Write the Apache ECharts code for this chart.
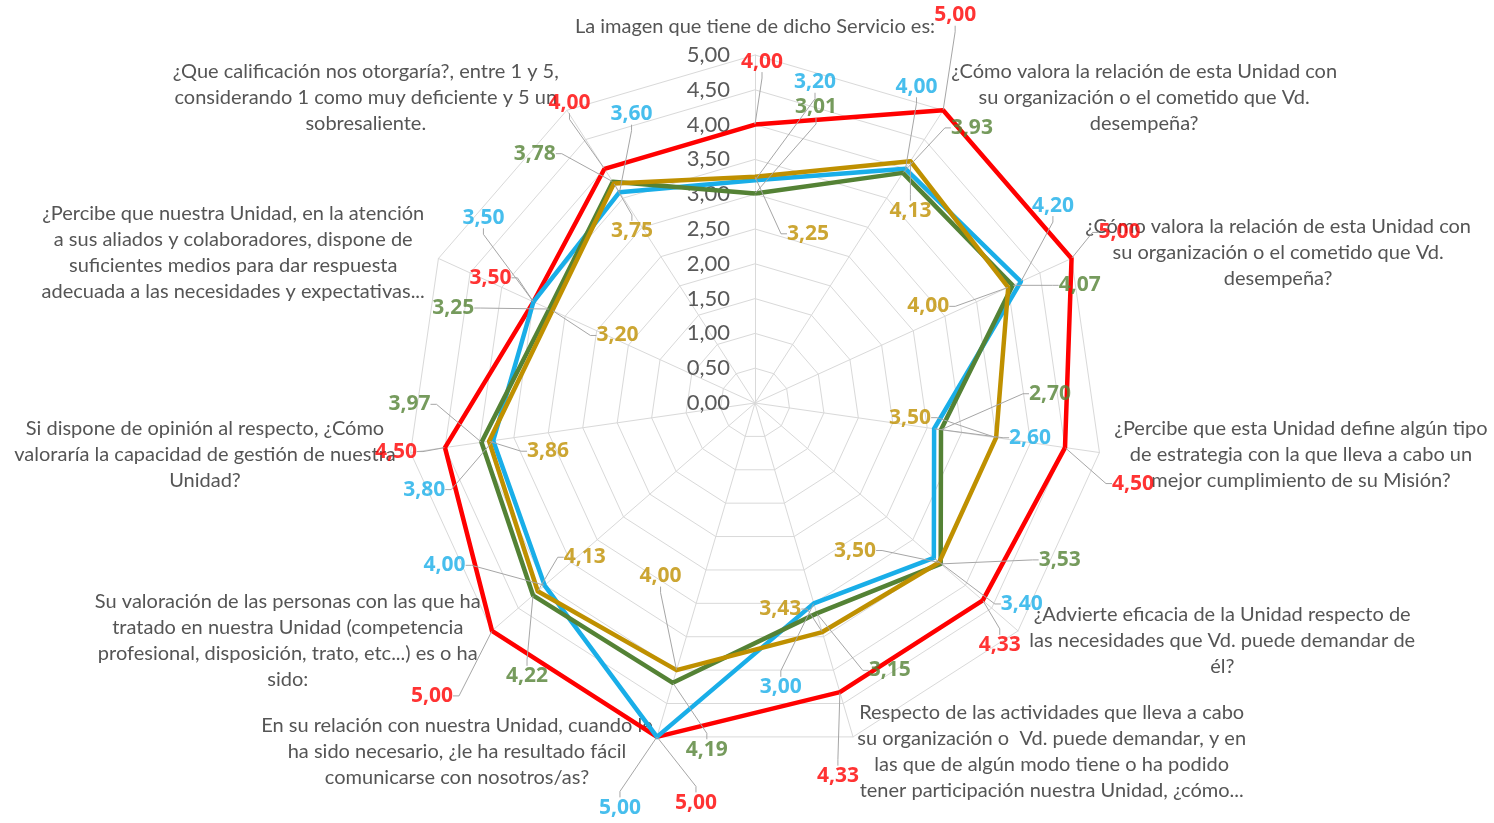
<!DOCTYPE html>
<html>
<head>
<meta charset="utf-8">
<title>Valoración del Servicio</title>
<script src="https://cdn.jsdelivr.net/npm/echarts@6/dist/echarts.min.js"></script>
<style>
  html, body { margin: 0; padding: 0; background: #ffffff; }
  #chart { width: 1494px; height: 823px; }
</style>
</head>
<body>
<div id="chart"></div>
<script>
// Questions, clockwise from the top
const questions = [
  "La imagen que tiene de dicho Servicio es:",
  "¿Cómo valora la relación de esta Unidad con\nsu organización o el cometido que Vd.\ndesempeña?",
  "¿Cómo valora la relación de esta Unidad con\nsu organización o el cometido que Vd.\ndesempeña?",
  "¿Percibe que esta Unidad define algún tipo\nde estrategia con la que lleva a cabo un\nmejor cumplimiento de su Misión?",
  "¿Advierte eficacia de la Unidad respecto de\nlas necesidades que Vd. puede demandar de\nél?",
  "Respecto de las actividades que lleva a cabo\nsu organización o  Vd. puede demandar, y en\nlas que de algún modo tiene o ha podido\ntener participación nuestra Unidad, ¿cómo...",
  "En su relación con nuestra Unidad, cuando le\nha sido necesario, ¿le ha resultado fácil\ncomunicarse con nosotros/as?",
  "Su valoración de las personas con las que ha\ntratado en nuestra Unidad (competencia\nprofesional, disposición, trato, etc...) es o ha\nsido:",
  "Si dispone de opinión al respecto, ¿Cómo\nvaloraría la capacidad de gestión de nuestra\nUnidad?",
  "¿Percibe que nuestra Unidad, en la atención\na sus aliados y colaboradores, dispone de\nsuficientes medios para dar respuesta\nadecuada a las necesidades y expectativas...",
  "¿Que calificación nos otorgaría?, entre 1 y 5,\nconsiderando 1 como muy deficiente y 5 un\nsobresaliente."
];

// Scores per group, same order as the questions
const serieRoja  = [4.00, 5.00, 5.00, 4.50, 4.33, 4.33, 5.00, 5.00, 4.50, 3.50, 4.00];
const serieAzul  = [3.20, 4.00, 4.20, 2.60, 3.40, 3.00, 5.00, 4.00, 3.80, 3.50, 3.60];
const serieVerde = [3.01, 3.93, 4.07, 2.70, 3.53, 3.15, 4.19, 4.22, 3.97, 3.25, 3.78];
const serieOro   = [3.25, 4.13, 4.00, 3.50, 3.50, 3.43, 4.00, 4.13, 3.86, 3.20, 3.75];

// Scale of the score axis
const scaleMin = 0;
const scaleMax = 5;
const scaleSteps = 10;

// Layout -----------------------------------------------------------------
const CENTER = [755, 403];
const RADIUS = 348;
const FONT = 'Lato, "Open Sans", sans-serif';
const VALUE_FONT = '"Open Sans", Lato, sans-serif';

const colors = ['#FF0000', '#19AEE8', '#548235', '#BF9000'];
const seriesList = [serieRoja, serieAzul, serieVerde, serieOro];

// Label displacement (px) from each vertex, one row per group
const labelShift = [
  [[7,-63],[12,-95],[48,-26],[68,36],[17,45],[-2,84],[39,66],[-60,65],[-49,4],[-43,-24],[-35,-66]],
  [[60,-98],[11,-82],[32,-76],[96,9],[88,46],[-33,84],[-37,71],[-100,-20],[-69,49],[-50,-84],[12,-78]],
  [[61,-86],[69,-45],[67,0],[109,-36],[119,-4],[73,57],[34,67],[-6,81],[-72,-38],[-96,-1],[-78,-28]],
  [[53,57],[0,50],[-80,19],[-86,-20],[-84,-12],[-42,-23],[-16,-94],[47,-34],[59,10],[65,25],[18,48]]
];

const fmt = v => v.toFixed(2).replace('.', ',');

// The radar lays its indicators out counter-clockwise, so feed them reversed
// after the first one to get a clockwise reading order.
const n = questions.length;
const order = [0];
for (let i = n - 1; i >= 1; i--) order.push(i);

const indicator = order.map((q, k) => {
  const ind = { name: questions[q], min: scaleMin, max: scaleMax };
  if (k === 0) ind.axisLabel = { show: true };
  return ind;
});

const radarSeries = seriesList.map((vals, s) => ({
  type: 'radar',
  radarIndex: 0,
  symbol: 'none',
  silent: true,
  z: 2 + s,
  lineStyle: { color: colors[s], width: 4.5 },
  itemStyle: { color: colors[s] },
  data: [{ value: order.map(q => vals[q]) }]
}));

// Value labels sit on an invisible polar overlay sharing centre and radius
const labelSeries = seriesList.map((vals, s) => ({
  type: 'scatter',
  coordinateSystem: 'polar',
  polarIndex: 0,
  symbol: 'circle',
  symbolSize: 1,
  silent: true,
  z: 10,
  itemStyle: { color: 'rgba(0,0,0,0)' },
  data: vals.map((v, i) => [v, i]),
  label: {
    show: true,
    position: 'inside',
    formatter: p => fmt(p.value[0]),
    color: colors[s],
    fontFamily: VALUE_FONT,
    fontWeight: 'bold',
    fontSize: 21
  },
  labelLine: {
    show: true,
    length2: 6,
    lineStyle: { color: '#a6a6a6', width: 1 }
  },
  labelLayout: p => ({ dx: labelShift[s][p.dataIndex][0], dy: labelShift[s][p.dataIndex][1] })
}));

const option = {
  backgroundColor: '#ffffff',
  animation: false,
  radar: {
    center: CENTER,
    radius: RADIUS,
    startAngle: 90,
    shape: 'polygon',
    splitNumber: scaleSteps,
    axisNameGap: 15,
    indicator: indicator,
    axisName: {
      color: '#555555',
      fontFamily: FONT,
      fontSize: 20,
      lineHeight: 26,
      formatter: name => name.split('\n').map(l => '{c|' + l + '}').join('\n'),
      rich: { c: { align: 'center', color: '#555555', fontFamily: FONT, fontSize: 20, lineHeight: 26 } }
    },
    axisLine: { lineStyle: { color: '#d9d9d9', width: 1 } },
    splitLine: { lineStyle: { color: '#d9d9d9', width: 1 } },
    splitArea: { show: false },
    axisTick: { show: false },
    axisLabel: {
      show: false,
      color: '#595959',
      fontFamily: FONT,
      fontSize: 22,
      margin: 25,
      formatter: v => fmt(v)
    }
  },
  polar: { center: CENTER, radius: RADIUS },
  angleAxis: {
    type: 'value', min: 0, max: n, startAngle: 90, clockwise: true,
    show: false, axisLine: { show: false }, splitLine: { show: false }
  },
  radiusAxis: {
    type: 'value', min: scaleMin, max: scaleMax,
    show: false, axisLine: { show: false }, splitLine: { show: false }
  },
  series: radarSeries.concat(labelSeries)
};

const chart = echarts.init(document.getElementById('chart'), null, { renderer: 'canvas' });
chart.setOption(option);
</script>
</body>
</html>
